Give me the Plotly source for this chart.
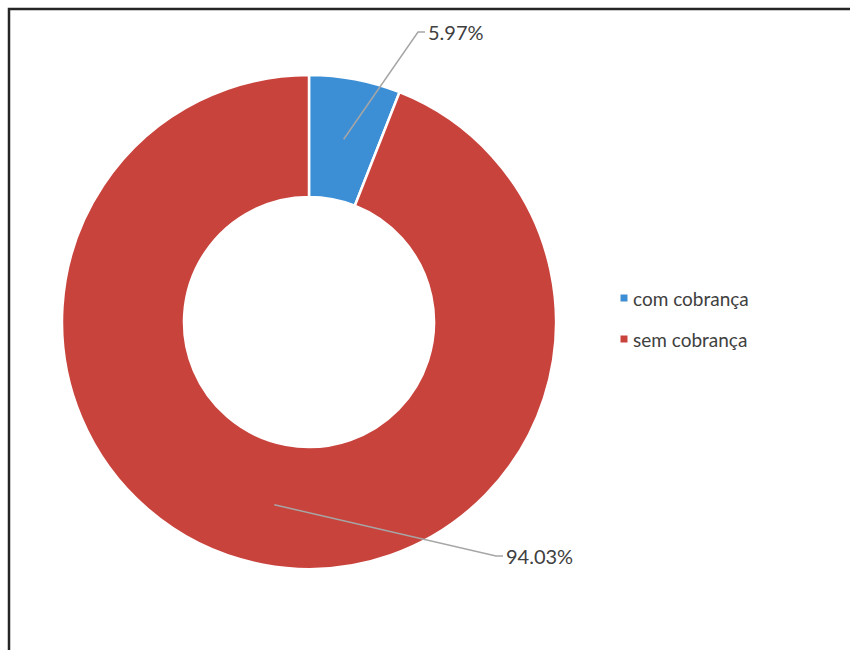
import math
import plotly.graph_objects as go

# Share of records with and without a charge
categories = ["com cobrança", "sem cobrança"]
values = [5.97, 94.03]
colors = ["#3D8FD5", "#C9433D"]

W, H = 850, 650
CX, CY = 309, 322          # donut centre (px)
R_OUT, R_IN = 247, 125     # outer / inner radius (px)
FONT = "Lato, 'Open Sans', sans-serif"
TEXT_COLOR = "#404040"
LEADER_COLOR = "#A6A6A6"

# label elbows (px)
label_elbows = [(418, 32), (496, 556)]


def px(x, y):
    return x / W, 1 - y / H


fig = go.Figure()
fig.add_trace(go.Pie(
    labels=categories,
    values=values,
    hole=R_IN / R_OUT,
    sort=False,
    direction="clockwise",
    rotation=0,
    marker=dict(colors=colors, line=dict(color="white", width=2.5)),
    textinfo="none",
    hoverinfo="label+percent",
    showlegend=False,
    domain=dict(x=[(CX - R_OUT) / W, (CX + R_OUT) / W],
                y=[1 - (CY + R_OUT) / H, 1 - (CY - R_OUT) / H]),
))

shapes = []
annotations = []

# frame around the chart
shapes.append(dict(type="rect", xref="paper", yref="paper",
                   x0=9 / W, x1=1.05, y0=-0.05, y1=1 - 9 / H,
                   line=dict(color="#262626", width=2.5), layer="above"))

# leader lines and value labels, anchored at the mid-angle of each slice
total = sum(values)
cum = 0.0
r_mid = (R_OUT + R_IN) / 2
for v, (ex, ey) in zip(values, label_elbows):
    mid = (cum + v / 2) / total * 2 * math.pi
    cum += v
    ax = CX + r_mid * math.sin(mid)
    ay = CY - r_mid * math.cos(mid)
    x0, y0 = px(ax, ay)
    x1, y1 = px(ex, ey)
    x2, y2 = px(ex + 7, ey)
    shapes.append(dict(type="path", xref="paper", yref="paper",
                       path=f"M {x0},{y0} L {x1},{y1} L {x2},{y2}",
                       line=dict(color=LEADER_COLOR, width=1.5), layer="above"))
    lx, ly = px(ex + 8, ey)
    annotations.append(dict(x=lx, y=ly, xref="paper", yref="paper",
                            text=f"{v:.2f}%", showarrow=False,
                            xanchor="left", yanchor="middle",
                            font=dict(family=FONT, size=20, color=TEXT_COLOR)))

# legend drawn as square markers with labels
legend_x, legend_y0, legend_dy = 624, 298, 41
for i, (name, c) in enumerate(zip(categories, colors)):
    ly = legend_y0 + i * legend_dy
    sx0, sy0 = px(legend_x - 3.5, ly - 3.5)
    sx1, sy1 = px(legend_x + 3.5, ly + 3.5)
    shapes.append(dict(type="rect", xref="paper", yref="paper",
                       x0=sx0, x1=sx1, y0=sy1, y1=sy0,
                       fillcolor=c, line=dict(width=0)))
    tx, ty = px(legend_x + 7, ly)
    annotations.append(dict(x=tx, y=ty, xref="paper", yref="paper",
                            text=name, showarrow=False,
                            xanchor="left", yanchor="middle",
                            font=dict(family=FONT, size=19, color=TEXT_COLOR)))

fig.update_layout(
    width=W, height=H,
    margin=dict(l=0, r=0, t=0, b=0),
    paper_bgcolor="white",
    plot_bgcolor="white",
    shapes=shapes,
    annotations=annotations,
)

fig.write_html("out.html")
